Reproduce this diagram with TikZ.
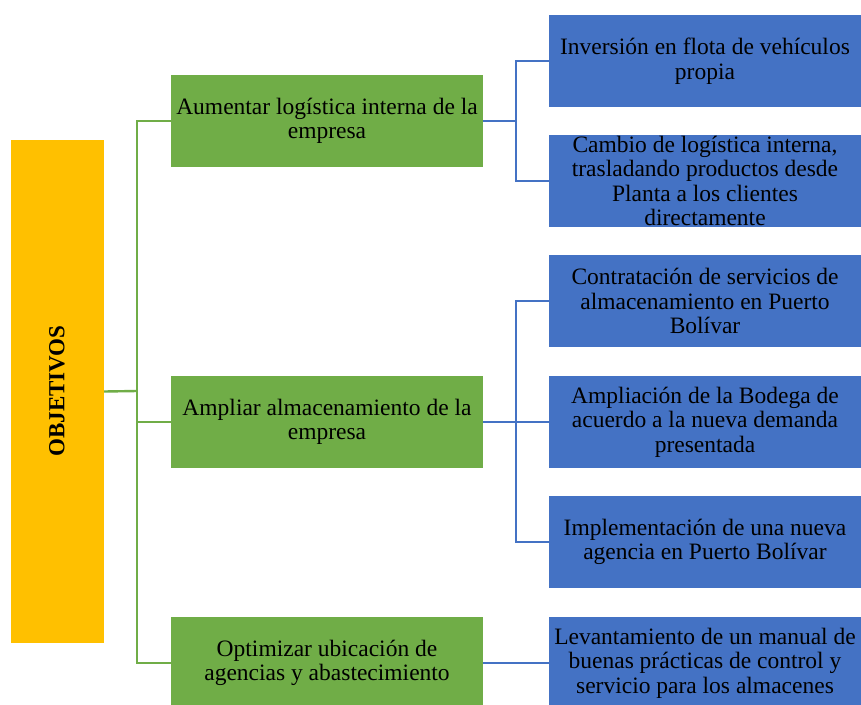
\documentclass[tikz,border=0pt]{standalone}
\usepackage{fontspec}
\setmainfont{Liberation Serif}
\usepackage{tikz}
\usetikzlibrary{positioning}

\definecolor{objyellow}{HTML}{FFC000}
\definecolor{objgreen}{HTML}{70AD47}
\definecolor{objblue}{HTML}{4472C4}

\tikzset{
    titlebox/.style={fill=objyellow, minimum width=93pt, minimum height=503pt, inner sep=0pt},
    goalbox/.style={fill=objgreen, minimum width=312pt, minimum height=92pt, inner sep=0pt, align=center},
    actionbox/.style={fill=objblue, minimum width=312pt, minimum height=92pt, inner sep=0pt, align=center},
    greenline/.style={draw=objgreen, line width=2.4pt},
    blueline/.style={draw=objblue, line width=2.4pt}
}

\begin{document}
\begin{tikzpicture}[x=1pt, y=-1pt, font=\fontsize{23.5}{24.5}\selectfont]
    % marco de la figura
    \useasboundingbox (0,0) rectangle (861,704);

    % objetivo general
    \node[titlebox] (obj) at (57.5,391.5) {};
    \node[rotate=90, font=\fontsize{23}{24}\selectfont\bfseries] (objtxt) at (57,391) {OBJETIVOS};

    % objetivos especificos
    \node[goalbox] (g1) at (327,121) {Aumentar log\'istica interna de la\\empresa};
    \node[goalbox] (g2) at (327,422) {Ampliar almacenamiento de la\\empresa};
    \node[goalbox] (g3) at (327,663) {Optimizar ubicaci\'on de\\agencias y abastecimiento};

    % acciones
    \node[actionbox] (a1) at (705,61) {Inversi\'on en flota de veh\'iculos\\propia};
    \node[actionbox] (a2) at (705,181) {Cambio de log\'istica interna,\\trasladando productos desde\\Planta a los clientes\\directamente};
    \node[actionbox] (a3) at (705,301) {Contrataci\'on de servicios de\\almacenamiento en Puerto\\Bol\'ivar};
    \node[actionbox] (a4) at (705,422) {Ampliaci\'on de la Bodega de\\acuerdo a la nueva demanda\\presentada};
    \node[actionbox] (a5) at (705,542) {Implementaci\'on de una nueva\\agencia en Puerto Bol\'ivar};
    \node[actionbox] (a6) at (705,663) {Levantamiento de un manual de\\buenas pr\'acticas de control y\\servicio para los almacenes};

    % conectores verdes
    \coordinate (gtrunk) at (137,391);
    \draw[greenline] (obj.east) -- (gtrunk);
    \draw[greenline] (g1.west) -| (gtrunk);
    \draw[greenline] (g3.west) -| (gtrunk);
    \draw[greenline] (g2.west) -- (g2.west -| gtrunk);

    % conectores azules
    \coordinate (btrunk1) at (516,121);
    \coordinate (btrunk2) at (516,422);
    \draw[blueline] (g1.east) -- (btrunk1);
    \draw[blueline] (a1.west) -| (btrunk1);
    \draw[blueline] (a2.west) -| (btrunk1);
    \draw[blueline] (g2.east) -- (a4.west);
    \draw[blueline] (a3.west) -| (btrunk2);
    \draw[blueline] (a5.west) -| (btrunk2);
    \draw[blueline] (g3.east) -- (a6.west);
\end{tikzpicture}
\end{document}
